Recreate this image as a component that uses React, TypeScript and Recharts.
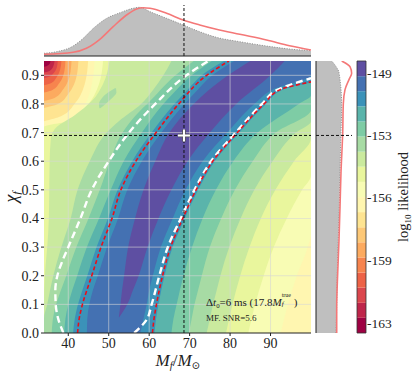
import React from "react";
import {
  ComposedChart,
  Area,
  Line,
  XAxis,
  YAxis,
  ReferenceLine,
  ReferenceDot,
} from "recharts";

type Band = [number, number, number][];
type Curve = [number, number][];

const W = 415;
const H = 374;
const serif = "'Liberation Serif', 'DejaVu Serif', serif";

// Spectral colour levels, index 0 = lowest likelihood
const levelColors = [
  "#9e0142", "#be254a", "#db464d", "#ed6246", "#f7844e", "#fcaa5f",
  "#fdc877", "#fee491", "#fff6b0", "#f8fcb4", "#e9f69d", "#caea9e",
  "#a7dba4", "#7ecca5", "#5ab4ab", "#3b92b9", "#4471b2", "#5e4fa2",
];
const levelEdges = [
  -163.56, -162.71, -161.87, -161.02, -160.18, -159.33, -158.48, -157.64,
  -156.79, -155.95, -155.1, -154.25, -153.41, -152.56, -151.72, -150.87,
  -150.02, -149.18, -148.33,
];
const cbarTicks = [-149, -152.47, -155.95, -159.47, -163];
const cbarLabels = ["-149", "-153", "-156", "-159", "-163"];

const massTicks = [40, 50, 60, 70, 80, 90];
const spinTicks = [0, 0.1, 0.2, 0.3, 0.4, 0.5, 0.6, 0.7, 0.8, 0.9];
const massTrue = 68.6;
const spinTrue = 0.69;

// regions above each level: [chi, left M, right M]
const level8: Band = [[0, 34, 100], [0.95, 34, 100]];
const level9: Band = [
  [0, 34, 92.5], [0.1, 34, 94.3], [0.2, 34, 96.5], [0.3, 34, 99.2], [0.35, 34, 100],
  [0.5, 34, 100], [0.69, 34, 100], [0.71, 38.7, 100], [0.77, 42.9, 100],
  [0.86, 45.7, 100], [0.95, 46.5, 100],
];
const level10: Band = [
  [0, 34, 84.5], [0.1, 34, 86.2], [0.2, 34, 88.3], [0.3, 34, 90.8], [0.4, 34, 94],
  [0.5, 34, 97.8], [0.55, 34, 100], [0.72, 34, 100], [0.74, 39.8, 100], [0.79, 44.3, 100],
  [0.87, 47.6, 100], [0.95, 48.6, 100],
];
const level11: Band = [
  [0, 34, 79], [0.1, 34, 80.6], [0.2, 34.2, 82.5], [0.3, 34.8, 84.8], [0.4, 35.2, 87.6],
  [0.5, 35.3, 91.2], [0.6, 35.4, 95.8], [0.68, 35.7, 100], [0.72, 37.2, 100],
  [0.76, 41.5, 100], [0.81, 45.8, 100], [0.87, 48.6, 100], [0.95, 50.2, 100],
];
const level12: Band = [
  [0, 34, 74.2], [0.05, 34, 75], [0.1, 34.8, 75.8], [0.15, 35.5, 76.7], [0.2, 36.3, 77.6],
  [0.3, 38.3, 79.8], [0.4, 40.6, 82.6], [0.5, 42.3, 86], [0.6, 45.3, 90.5],
  [0.7, 49.5, 96.3], [0.74, 52.5, 100], [0.8, 58, 100], [0.85, 61, 100],
  [0.9, 63.5, 100], [0.95, 65.5, 100],
];
const level13: Band = [
  [0, 35.9, 69.8], [0.05, 36.2, 70.5], [0.1, 37, 71.2], [0.15, 38.2, 72.1], [0.2, 39.5, 73],
  [0.3, 42, 75], [0.4, 45, 77.8], [0.5, 47.8, 81.2], [0.6, 50.3, 85.6], [0.7, 53.4, 91.3],
  [0.78, 58, 100], [0.8, 59.5, 100], [0.9, 66.5, 100], [0.95, 71, 100],
];
const level14: Band = [
  [0, 39, 65.5], [0.05, 39.3, 66], [0.1, 40, 66.8], [0.15, 41, 67.6], [0.2, 42.2, 68.5],
  [0.3, 44.6, 70.6], [0.4, 47.6, 73.2], [0.5, 50.5, 76.5], [0.6, 53.7, 80.8],
  [0.7, 58.2, 86.8], [0.8, 63.5, 97], [0.83, 65.5, 100], [0.9, 70.5, 100], [0.95, 75.5, 100],
];
const level15: Band = [
  [0, 41.2, 61.3], [0.05, 41.6, 61.7], [0.1, 42.4, 62.3], [0.15, 43.5, 63], [0.2, 44.7, 63.8],
  [0.3, 47, 65.8], [0.4, 49.8, 68.8], [0.5, 52.2, 72.1], [0.6, 55.8, 76.2],
  [0.7, 60.6, 82.3], [0.8, 66.2, 88.9], [0.85, 69.5, 93], [0.88, 71.5, 100],
  [0.9, 73, 100], [0.95, 78.5, 100],
];
const level16: Band = [
  [0, 44.6, 57.8], [0.05, 44.7, 58.6], [0.1, 45.2, 59.4], [0.15, 46.1, 60], [0.2, 47.3, 60.9],
  [0.3, 49.6, 62.9], [0.4, 52.3, 65.8], [0.5, 54.6, 69], [0.6, 58.2, 73.2],
  [0.7, 63, 79.3], [0.8, 68.7, 86], [0.85, 72, 90.5], [0.9, 75.6, 100], [0.95, 81, 100],
];
const level17: Band = [
  [0.055, 52.5, 52.6], [0.1, 52.9, 54.6], [0.15, 53.3, 56], [0.2, 53.8, 57.4],
  [0.3, 54.8, 59.6], [0.4, 56.5, 62.3], [0.5, 58.6, 65.5], [0.6, 61.5, 69.5],
  [0.7, 65, 75], [0.8, 71, 81.5], [0.9, 79.5, 90], [0.95, 85, 93.5],
];
const island12: Band = [
  [0.785, 47.7, 47.9], [0.8, 47.6, 49.2], [0.82, 48.3, 50.8], [0.84, 49.8, 51.9],
  [0.855, 51.5, 51.8],
];

// low-likelihood corner (top left): [chi, right M] for levels 7 .. 0
const corner7: Curve = [[0.74, 34], [0.757, 38.2], [0.803, 41.7], [0.877, 44.2], [0.95, 44.9]];
const corner6: Curve = [[0.786, 34], [0.799, 37.3], [0.835, 40], [0.893, 42], [0.95, 42.5]];
const corner5: Curve = [[0.81, 34], [0.821, 36.6], [0.852, 38.8], [0.901, 40.4], [0.95, 40.8]];
const corner4: Curve = [[0.84, 34], [0.849, 36.1], [0.873, 37.8], [0.912, 39], [0.95, 39.3]];
const corner3: Curve = [[0.865, 34], [0.872, 35.7], [0.891, 37], [0.92, 38], [0.95, 38.3]];
const corner2: Curve = [[0.89, 34], [0.895, 35.3], [0.908, 36.4], [0.929, 37.2], [0.95, 37.4]];
const corner1: Curve = [[0.91, 34], [0.913, 35], [0.922, 35.9], [0.936, 36.4], [0.95, 36.6]];
const corner0: Curve = [[0.93, 34], [0.932, 34.6], [0.936, 35.1], [0.943, 35.5], [0.95, 35.6]];

// dashed credible contours: [chi, M]
const redLeft: Curve = [
  [0, 42.3], [0.05, 42.7], [0.1, 43.5], [0.15, 44.6], [0.2, 45.8], [0.3, 48.1], [0.4, 50.8],
  [0.5, 53], [0.6, 56.7], [0.7, 61.7], [0.8, 67.3], [0.9, 74.2], [0.95, 79.7],
];
const redRight: Curve = [
  [0, 60.8], [0.05, 61.2], [0.1, 61.8], [0.15, 62.5], [0.2, 63.3], [0.3, 65.3], [0.4, 68.3],
  [0.5, 71.6], [0.6, 75.7], [0.7, 81.8], [0.8, 88.4], [0.85, 92.4], [0.877, 100],
];
const whiteLeft: Curve = [
  [0, 38.8], [0.05, 37.5], [0.1, 36.9], [0.15, 36.8], [0.2, 37.3], [0.25, 38.5], [0.3, 40],
  [0.4, 43], [0.5, 45.8], [0.6, 50], [0.7, 55], [0.8, 61.5], [0.9, 69.2], [0.95, 74.6],
];
const whiteRight: Curve = [
  [0, 56.3], [0.045, 59.3], [0.1, 60.6], [0.2, 62.5], [0.3, 64.6], [0.4, 67.8], [0.5, 71.2],
  [0.6, 75.3], [0.7, 81.4], [0.8, 87.9], [0.85, 91.8], [0.89, 100],
];

// marginals
const massHistM = [34, 37.1, 41.2, 43.7, 46.2, 49.5, 52.8, 56, 57.7, 60.2, 64.3, 68.4, 72.5, 76.6, 82.4, 89, 94.7, 100];
const massHistD = [0.053, 0.084, 0.196, 0.347, 0.543, 0.739, 0.849, 0.935, 0.955, 0.869, 0.739, 0.608, 0.476, 0.367, 0.28, 0.196, 0.137, 0.104];
const massLineM = [34, 41.2, 44.5, 47.8, 51.1, 54.4, 56.9, 58.5, 60.2, 64.3, 68.4, 72.5, 76.6, 82.4, 89, 94.7, 100];
const massLineD = [0.033, 0.073, 0.151, 0.327, 0.575, 0.804, 0.922, 0.947, 0.935, 0.837, 0.706, 0.608, 0.524, 0.425, 0.314, 0.202, 0.118];
const spinHistChi = [0, 0.09, 0.21, 0.325, 0.44, 0.56, 0.7, 0.79, 0.91, 0.93, 0.95];
const spinHistD = [0.556, 0.575, 0.592, 0.619, 0.647, 0.667, 0.694, 0.714, 0.639, 0.56, 0.436];
const spinLineChi = [0, 0.09, 0.21, 0.325, 0.44, 0.56, 0.7, 0.8, 0.85, 0.885, 0.907, 0.93, 0.95];
const spinLineD = [0.575, 0.575, 0.603, 0.639, 0.667, 0.694, 0.742, 0.758, 0.806, 0.917, 0.99, 0.944, 0.714];

const bandRows = (b: Band) => b.map(([chi, lo, hi]) => ({ chi, r: [lo, hi] }));
const cornerRows = (c: Curve) => c.map(([chi, m]) => ({ chi, r: [34, m] }));
const curveRows = (c: Curve) => c.map(([chi, m]) => ({ chi, m }));

const fieldLevels: { level: number; rows: Band }[] = [
  { level: 8, rows: level8 },
  { level: 9, rows: level9 },
  { level: 10, rows: level10 },
  { level: 11, rows: level11 },
  { level: 12, rows: level12 },
  { level: 13, rows: level13 },
  { level: 14, rows: level14 },
  { level: 15, rows: level15 },
  { level: 16, rows: level16 },
  { level: 17, rows: level17 },
  { level: 12, rows: island12 },
];
const cornerLevels: { level: number; rows: Curve }[] = [
  { level: 7, rows: corner7 },
  { level: 6, rows: corner6 },
  { level: 5, rows: corner5 },
  { level: 4, rows: corner4 },
  { level: 3, rows: corner3 },
  { level: 2, rows: corner2 },
  { level: 1, rows: corner1 },
  { level: 0, rows: corner0 },
];

const layer: React.CSSProperties = { position: "absolute", left: 0, top: 0 };
const tickFont = { fill: "#222", fontSize: 14, fontFamily: serif };

const PlusMark = (p: any) => {
  const d = `M${p.cx - 6},${p.cy}H${p.cx + 6}M${p.cx},${p.cy - 6}V${p.cy + 6}`;
  return (
    <g>
      <path d={d} stroke="#555" strokeWidth={3.6} />
      <path d={d} stroke="#fff" strokeWidth={2} />
    </g>
  );
};

function MainPanel() {
  return (
    <ComposedChart
      layout="vertical"
      width={W}
      height={H}
      margin={{ top: 61, right: 104, bottom: 21, left: 4 }}
    >
      <XAxis
        type="number"
        domain={[34, 100]}
        allowDataOverflow
        ticks={massTicks}
        height={20}
        tickSize={3}
        axisLine={{ stroke: "#222" }}
        tickLine={{ stroke: "#222" }}
        tick={tickFont}
      />
      <YAxis
        type="number"
        dataKey="chi"
        domain={[0, 0.95]}
        allowDataOverflow
        reversed
        ticks={spinTicks}
        width={40}
        tickSize={3}
        axisLine={false}
        tickLine={{ stroke: "#222" }}
        tickFormatter={(v: number) => v.toFixed(1)}
        tick={tickFont}
      />
      {fieldLevels.map((b, i) => (
        <Area
          key={`lv-${i}`}
          data={bandRows(b.rows)}
          dataKey="r"
          type="monotone"
          stroke="none"
          fill={levelColors[b.level]}
          fillOpacity={1}
          dot={false}
          activeDot={false}
          isAnimationActive={false}
        />
      ))}
      {cornerLevels.map((b, i) => (
        <Area
          key={`cn-${i}`}
          data={cornerRows(b.rows)}
          dataKey="r"
          type="monotone"
          stroke="none"
          fill={levelColors[b.level]}
          fillOpacity={1}
          dot={false}
          activeDot={false}
          isAnimationActive={false}
        />
      ))}
      {massTicks.map((v) => (
        <ReferenceLine key={`gx-${v}`} x={v} stroke="rgba(215,215,215,0.6)" strokeWidth={1} />
      ))}
      {spinTicks.slice(1).map((v) => (
        <ReferenceLine key={`gy-${v}`} y={v} stroke="rgba(215,215,215,0.6)" strokeWidth={1} />
      ))}
      <Line data={curveRows(whiteLeft)} dataKey="m" type="monotone" stroke="#ffffff" strokeWidth={2.4} strokeDasharray="7 4" dot={false} activeDot={false} isAnimationActive={false} />
      <Line data={curveRows(whiteRight)} dataKey="m" type="monotone" stroke="#ffffff" strokeWidth={2.4} strokeDasharray="7 4" dot={false} activeDot={false} isAnimationActive={false} />
      <Line data={curveRows(redLeft)} dataKey="m" type="monotone" stroke="#e8101a" strokeWidth={1.6} strokeDasharray="4 2.5" dot={false} activeDot={false} isAnimationActive={false} />
      <Line data={curveRows(redRight)} dataKey="m" type="monotone" stroke="#e8101a" strokeWidth={1.6} strokeDasharray="4 2.5" dot={false} activeDot={false} isAnimationActive={false} />
      <ReferenceLine x={massTrue} stroke="#111" strokeWidth={1} strokeDasharray="3 2" />
      <ReferenceLine y={spinTrue} stroke="#111" strokeWidth={1} strokeDasharray="3 2" />
      <ReferenceDot x={massTrue} y={spinTrue} shape={PlusMark} />
    </ComposedChart>
  );
}

function TopPanel() {
  const hist = massHistM.map((m, i) => ({ m, d: massHistD[i] }));
  const line = massLineM.map((m, i) => ({ m, d: massLineD[i] }));
  return (
    <ComposedChart width={W} height={H} margin={{ top: 5, right: 104, bottom: 318, left: 44 }}>
      <XAxis
        type="number"
        dataKey="m"
        domain={[34, 100]}
        allowDataOverflow
        ticks={massTicks}
        mirror
        tick={false}
        tickSize={4}
        axisLine={{ stroke: "#222" }}
        tickLine={{ stroke: "#222" }}
      />
      <YAxis type="number" domain={[0, 1]} hide />
      <Area data={hist} dataKey="d" type="monotone" fill="#bfbfbf" fillOpacity={1} stroke="#8c8c8c" strokeWidth={1} strokeDasharray="1 1.5" dot={false} activeDot={false} isAnimationActive={false} />
      <Line data={line} dataKey="d" type="monotone" stroke="#f47878" strokeWidth={1.6} dot={false} activeDot={false} isAnimationActive={false} />
      <ReferenceLine x={massTrue} stroke="#111" strokeWidth={1} strokeDasharray="3 2" />
    </ComposedChart>
  );
}

function RightPanel() {
  const hist = spinHistChi.map((chi, i) => ({ chi, d: spinHistD[i] }));
  const line = spinLineChi.map((chi, i) => ({ chi, d: spinLineD[i] }));
  return (
    <ComposedChart layout="vertical" width={W} height={H} margin={{ top: 61, right: 63, bottom: 41, left: 316 }}>
      <XAxis type="number" domain={[0, 1]} hide />
      <YAxis
        type="number"
        dataKey="chi"
        domain={[0, 0.95]}
        allowDataOverflow
        reversed
        ticks={spinTicks}
        mirror
        tick={false}
        tickSize={4}
        axisLine={{ stroke: "#222" }}
        tickLine={{ stroke: "#222" }}
      />
      <Area data={hist} dataKey="d" type="monotone" fill="#bfbfbf" fillOpacity={1} stroke="#8c8c8c" strokeWidth={1} strokeDasharray="1 1.5" dot={false} activeDot={false} isAnimationActive={false} />
      <Line data={line} dataKey="d" type="monotone" stroke="#f47878" strokeWidth={1.6} dot={false} activeDot={false} isAnimationActive={false} />
      <ReferenceLine y={spinTrue} stroke="#111" strokeWidth={1} strokeDasharray="3 2" />
    </ComposedChart>
  );
}

function ColorBar() {
  return (
    <ComposedChart width={W} height={H} margin={{ top: 61, right: 9, bottom: 41, left: 357 }}>
      <XAxis type="number" dataKey="x" domain={[0, 1]} allowDataOverflow hide />
      <YAxis
        type="number"
        orientation="right"
        domain={[levelEdges[0], levelEdges[levelEdges.length - 1]]}
        allowDataOverflow
        ticks={cbarTicks}
        interval={0}
        width={40}
        tickLine={false}
        axisLine={false}
        tickFormatter={(v: number) => cbarLabels[cbarTicks.indexOf(v)] ?? ""}
        tick={{ ...tickFont, fontSize: 13.5, dx: -7 }}
      />
      {levelColors.map((c, i) => (
        <Area
          key={`cb-${i}`}
          data={[
            { x: 0, r: [levelEdges[i], levelEdges[i + 1]] },
            { x: 1, r: [levelEdges[i], levelEdges[i + 1]] },
          ]}
          dataKey="r"
          type="linear"
          stroke="none"
          fill={c}
          fillOpacity={1}
          dot={false}
          activeDot={false}
          isAnimationActive={false}
        />
      ))}
      <ReferenceLine x={0} stroke="#333" strokeWidth={0.8} />
      <ReferenceLine x={1} stroke="#333" strokeWidth={0.8} />
      <ReferenceLine y={levelEdges[0]} stroke="#333" strokeWidth={0.8} />
      <ReferenceLine y={levelEdges[levelEdges.length - 1]} stroke="#333" strokeWidth={0.8} />
    </ComposedChart>
  );
}

const sub: React.CSSProperties = { fontSize: "0.62em", verticalAlign: "-0.3em" };

export default function App() {
  return (
    <div style={{ position: "absolute", left: 0, top: 0, width: W, height: H, background: "#fff", fontFamily: serif, color: "#222" }}>
      <div style={layer}><MainPanel /></div>
      <div style={layer}><TopPanel /></div>
      <div style={layer}><RightPanel /></div>
      <div style={layer}><ColorBar /></div>
      <div style={{ position: "absolute", left: 118, top: 352, width: 120, textAlign: "center", fontSize: 17, lineHeight: 1, whiteSpace: "nowrap" }}>
        <i>M</i><span style={sub}><i>f</i></span>/<i>M</i><span style={sub}>⊙</span>
      </div>
      <div style={{ position: "absolute", left: -12, top: 187, width: 48, height: 20, textAlign: "center", fontSize: 18, lineHeight: 1, transform: "rotate(-90deg)", whiteSpace: "nowrap" }}>
        <i>χ</i><span style={sub}><i>f</i></span>
      </div>
      <div style={{ position: "absolute", left: 344, top: 189, width: 120, height: 16, textAlign: "center", fontSize: 14.5, lineHeight: 1, transform: "rotate(-90deg)", whiteSpace: "nowrap" }}>
        log<span style={sub}>10</span> likelihood
      </div>
      <div style={{ position: "absolute", left: 206, top: 296, fontSize: 11, lineHeight: 1, whiteSpace: "nowrap" }}>
        Δ<i>t</i><span style={sub}>0</span>=6 ms (17.8<i>M</i>
        <span style={{ position: "relative", display: "inline-block", width: 12, height: 10 }}>
          <span style={{ position: "absolute", left: 0, top: -4, fontSize: 6 }}>true</span>
          <span style={{ position: "absolute", left: 0, top: 5, fontSize: 7 }}><i>f</i></span>
        </span>)
      </div>
      <div style={{ position: "absolute", left: 206, top: 314, fontSize: 9, lineHeight: 1, whiteSpace: "nowrap" }}>
        MF. SNR=5.6
      </div>
    </div>
  );
}
